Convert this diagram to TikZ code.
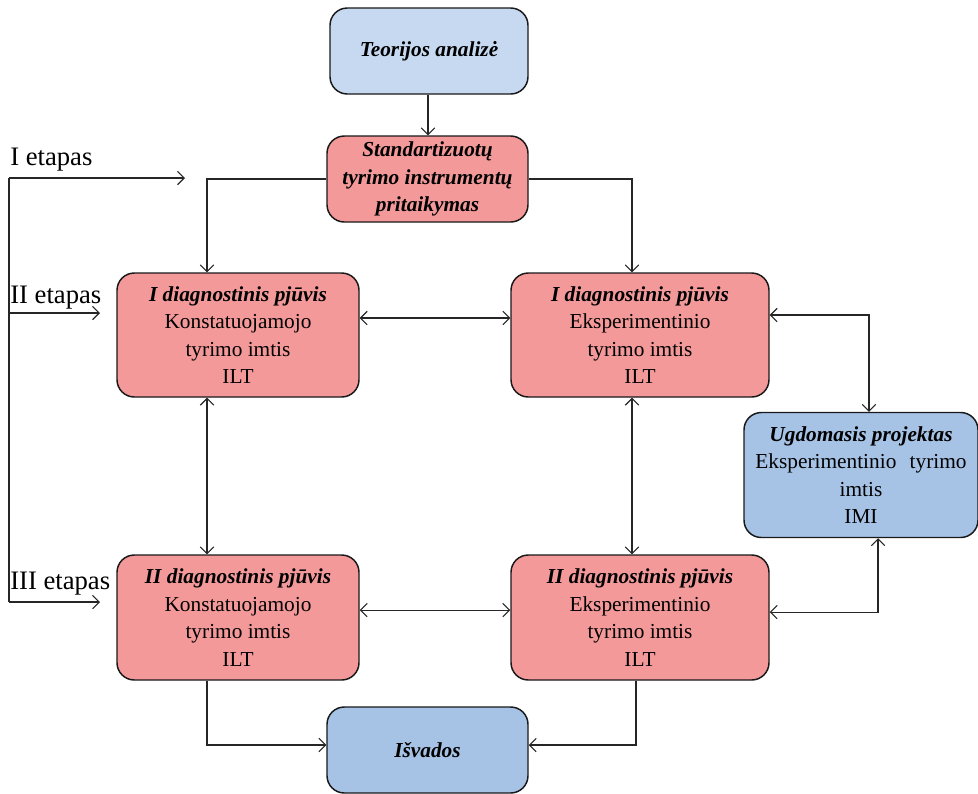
\documentclass[tikz,border=0pt]{standalone}
\usepackage{fontspec}
\setmainfont{Liberation Serif}
\usetikzlibrary{arrows.meta}
\definecolor{paleblue}{RGB}{198,217,240}
\definecolor{midblue}{RGB}{166,195,230}
\definecolor{rosebox}{RGB}{243,153,153}
\tikzset{
  box/.style={draw=black!90, line width=1.1pt, rounded corners=13pt, align=center,
    inner sep=0pt, font=\fontsize{16}{20.6}\selectfont},
  bluebox/.style={box, fill=midblue},
  paletop/.style={box, fill=paleblue},
  pinkbox/.style={box, fill=rosebox},
  conn/.style={draw=black!85, line width=0.8pt, -{Straight Barb[length=5pt,width=10pt]}},
  biconn/.style={conn, {Straight Barb[length=5pt,width=10pt]}-{Straight Barb[length=5pt,width=10pt]}},
  stage/.style={anchor=west, inner sep=0pt, font=\fontsize{20}{24}\selectfont}
}
\begin{document}
\begin{tikzpicture}[x=0.75pt, y=-0.75pt]
\useasboundingbox (0,0) rectangle (978,793);

% boxes
\node[paletop, minimum width=148.5pt, minimum height=64.5pt] (teo) at (429,51)
  {\textbf{\textit{Teorijos analizė}}};
\node[pinkbox, minimum width=150.75pt, minimum height=64.5pt] (std) at (427.5,179)
  {\textbf{\textit{Standartizuotų}}\\\textbf{\textit{tyrimo instrumentų}}\\\textbf{\textit{pritaikymas}}};
\node[pinkbox, minimum width=181.5pt, minimum height=93pt] (d1l) at (238,335)
  {\textbf{\textit{I diagnostinis pjūvis}}\\Konstatuojamojo\\tyrimo imtis\\ILT};
\node[pinkbox, minimum width=193.5pt, minimum height=93pt] (d1r) at (640,335)
  {\textbf{\textit{I diagnostinis pjūvis}}\\Eksperimentinio\\tyrimo imtis\\ILT};
\node[bluebox, minimum width=175.5pt, minimum height=93.75pt] (ugd) at (861,475)
  {\textbf{\textit{Ugdomasis projektas}}\\Eksperimentinio\hspace{10pt}tyrimo\\imtis\\IMI};
\node[pinkbox, minimum width=181.5pt, minimum height=93.75pt] (d2l) at (238,617.5)
  {\textbf{\textit{II diagnostinis pjūvis}}\\Konstatuojamojo\\tyrimo imtis\\ILT};
\node[pinkbox, minimum width=193.5pt, minimum height=93.75pt] (d2r) at (640,617.5)
  {\textbf{\textit{II diagnostinis pjūvis}}\\Eksperimentinio\\tyrimo imtis\\ILT};
\node[bluebox, minimum width=150.75pt, minimum height=64.5pt] (isv) at (427.5,750)
  {\textbf{\textit{Išvados}}};

% flow between boxes
\draw[conn] ([xshift=-0.75pt]teo.south) -- ([xshift=-0.75pt]teo.south |- std.north);
\draw[conn] (std.west) -| ([xshift=-23.25pt]d1l.north);
\draw[conn] (std.east) -| ([xshift=-6pt]d1r.north);
\draw[biconn] ([yshift=12.75pt]d1l.east) -- ([yshift=12.75pt]d1r.west);
\draw[biconn] ([yshift=5.6pt]d2l.east) -- ([yshift=5.6pt]d2r.west);
\draw[biconn] ([xshift=-23.25pt]d1l.south) -- ([xshift=-23.25pt]d2l.north);
\draw[biconn] ([xshift=-6pt]d1r.south) -- ([xshift=-6pt]d2r.north);
\draw[biconn] ([yshift=15pt]d1r.east) -| ([xshift=6pt]ugd.north);
\draw[biconn] ([yshift=4.1pt]d2r.east) -| ([xshift=12.75pt]ugd.south);
\draw[conn] ([xshift=-23.25pt]d2l.south) |- ([yshift=3.75pt]isv.west);
\draw[conn] ([xshift=-3pt]d2r.south) |- ([yshift=3.75pt]isv.east);

% stages
\coordinate (s1) at (9,178);
\coordinate (s2) at (9,313);
\coordinate (s3) at (9,602);
\coordinate (t1) at (185,178);
\coordinate (t2) at (100,313);
\coordinate (t3) at (100,602);
\draw[draw=black!85, line width=0.8pt] (s1) -- (s3);
\draw[conn] (s1) -- (t1);
\draw[conn] (s2) -- (t2);
\draw[conn] (s3) -- (t3);
\node[stage] (l1) at (10,160) {I etapas};
\node[stage] (l2) at (10,298) {II etapas};
\node[stage] (l3) at (10,584) {III etapas};
\end{tikzpicture}
\end{document}
